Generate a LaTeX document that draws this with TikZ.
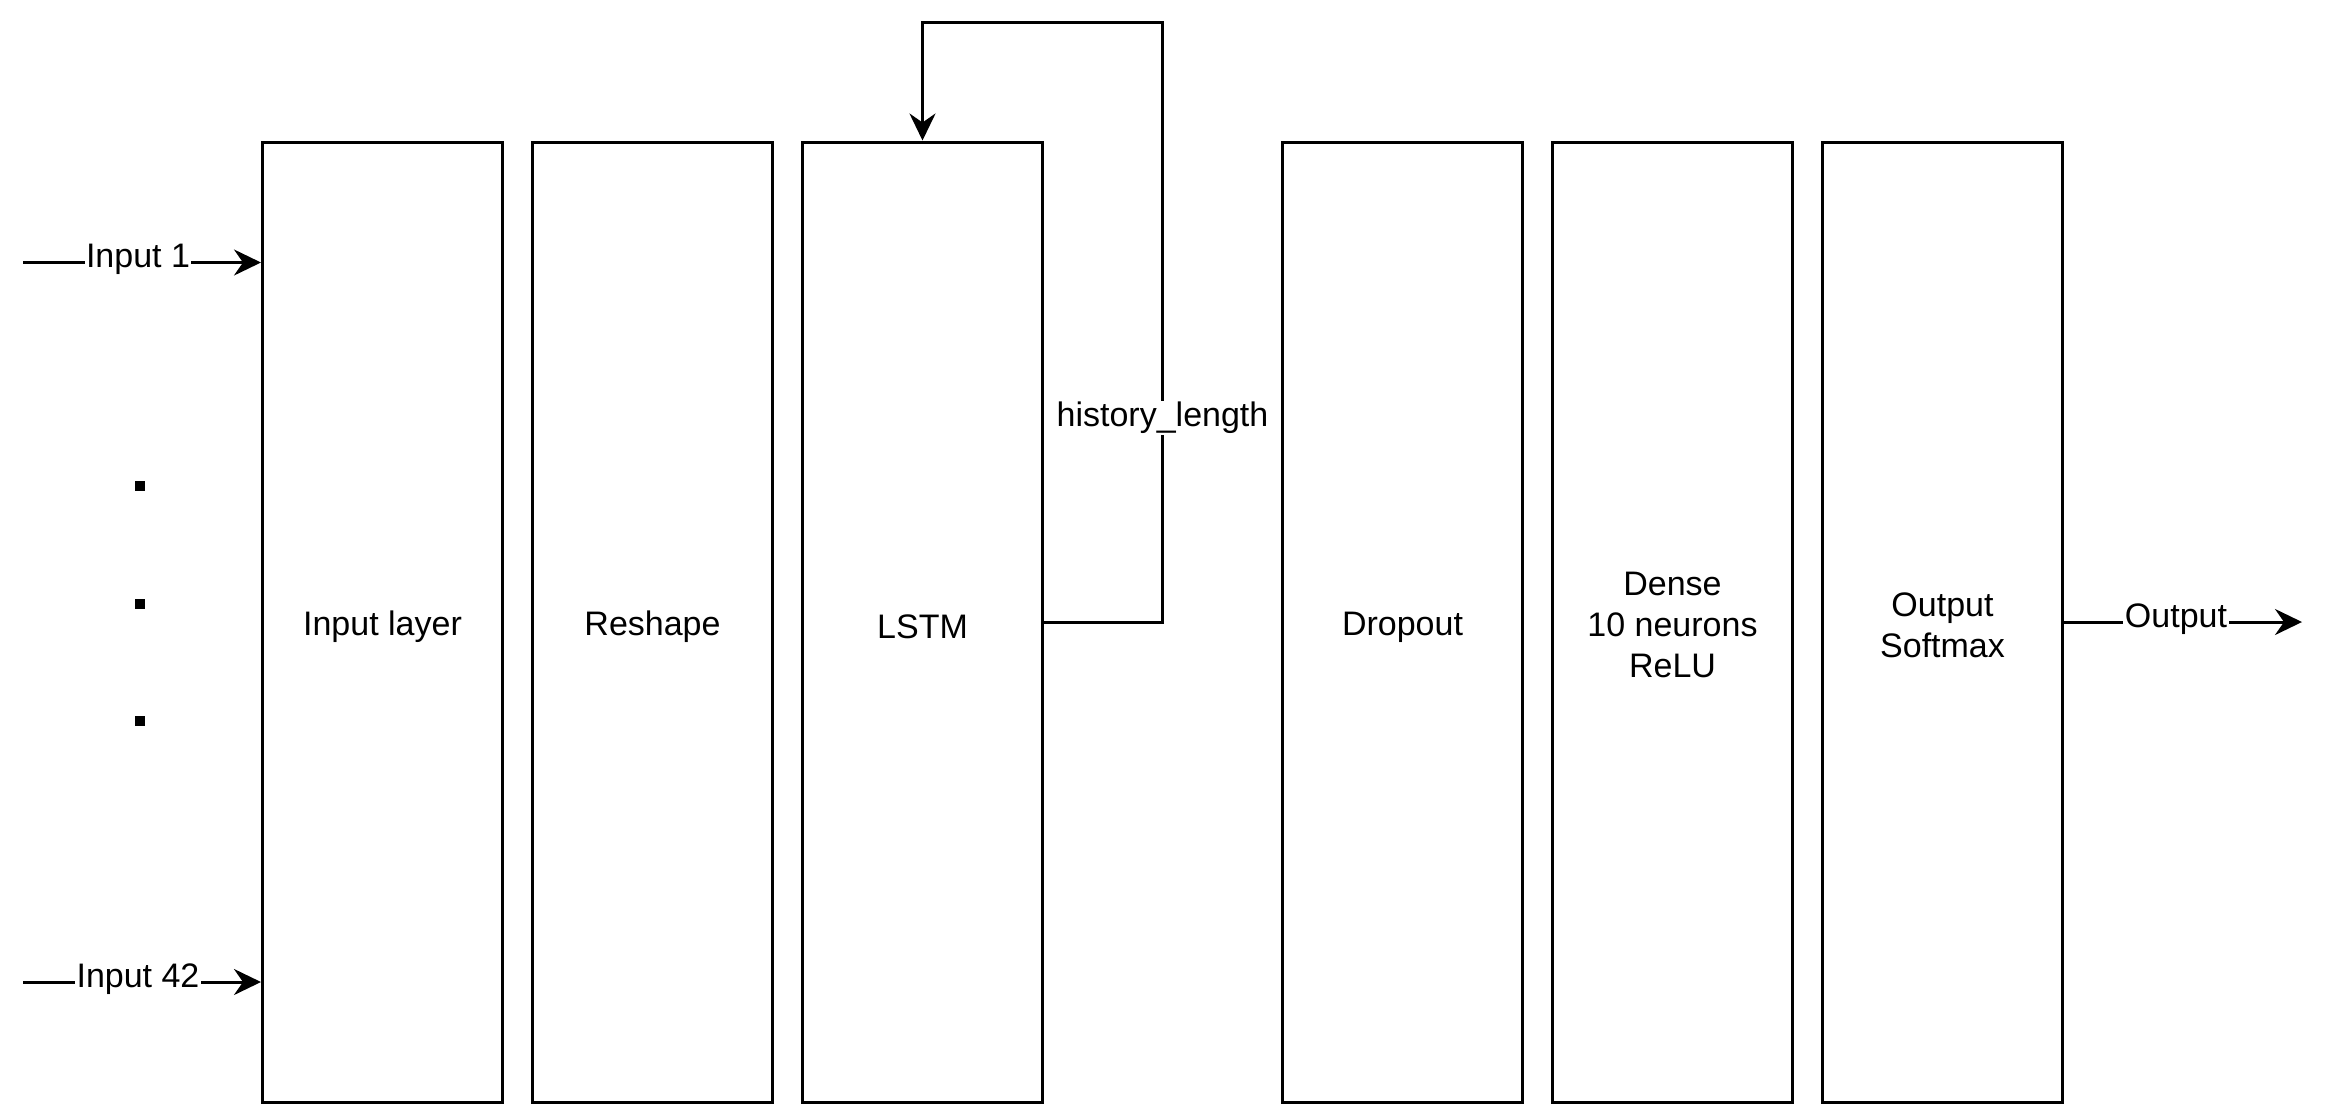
\documentclass[tikz,border=0pt]{standalone}
\usepackage{fontspec}
\setmainfont{Liberation Sans}
\usetikzlibrary{arrows.meta}
\begin{document}
\begin{tikzpicture}[x=1pt,y=-1pt,
  every node/.style={font=\fontsize{34}{40.6}\selectfont},
  layer/.style={draw, line width=3pt, rectangle, minimum width=240pt, minimum height=960pt, align=center, inner sep=0pt},
  txt/.style={align=center, inner sep=0pt},
  arr/.style={line width=3pt, -{Stealth[length=27pt,width=26pt,inset=9pt]}},
  lbl/.style={fill=white, inner sep=1.5pt},
  dotsq/.style={fill=black, minimum size=10.5pt, inner sep=0pt}]
\useasboundingbox (0,0) rectangle (2328,1104);
% layers
\node[layer] (inl)  at (382.5,622) {};
\node[layer] (resh) at (652.5,622) {};
\node[layer] (lstm) at (922.5,622) {};
\node[layer] (drop) at (1402.5,622) {};
\node[layer] (dens) at (1672.5,622) {};
\node[layer] (outb) at (1942.5,622) {};
\node[txt, yshift=-5pt] (tinl)  at (inl)  {Input layer};
\node[txt, yshift=-5pt] (tresh) at (resh) {Reshape};
\node[txt, yshift=-5pt] (tlstm) at (lstm) {LSTM};
\node[txt, yshift=-5pt] (tdrop) at (drop) {Dropout};
\node[txt, yshift=-3pt] (tdens) at (dens) {Dense\\10 neurons\\ReLU};
\node[txt, yshift=-3pt] (toutb) at (outb) {Output\\Softmax};
% inputs
\coordinate (s1) at (23,262.5);
\coordinate (s42) at (23,982);
\draw[arr] (s1) -- (s1 -| inl.west) node[midway, lbl, yshift=3pt, xshift=-4pt] {Input 1};
\draw[arr] (s42) -- (s42 -| inl.west) node[midway, lbl, yshift=3pt, xshift=-4pt] {Input 42};
% dots
\node[dotsq] (d1) at (140,486) {};
\node[dotsq] (d2) at (140,604) {};
\node[dotsq] (d3) at (140,721) {};
% recurrent loop
\coordinate (c1) at (1162.5,622);
\coordinate (c2) at (1162.5,22.5);
\coordinate (hl) at (1162.5,418);
\draw[arr] (lstm.east) -- (c1) -- (c2) -- (c2 -| lstm.north) -- (lstm.north);
\node[lbl] (hlab) at (hl) {history\_length};
% output
\coordinate (oend) at (2302,622);
\draw[arr] (outb.east) -- (oend) node[midway, lbl, yshift=3pt, xshift=-7pt] {Output};
\end{tikzpicture}
\end{document}
